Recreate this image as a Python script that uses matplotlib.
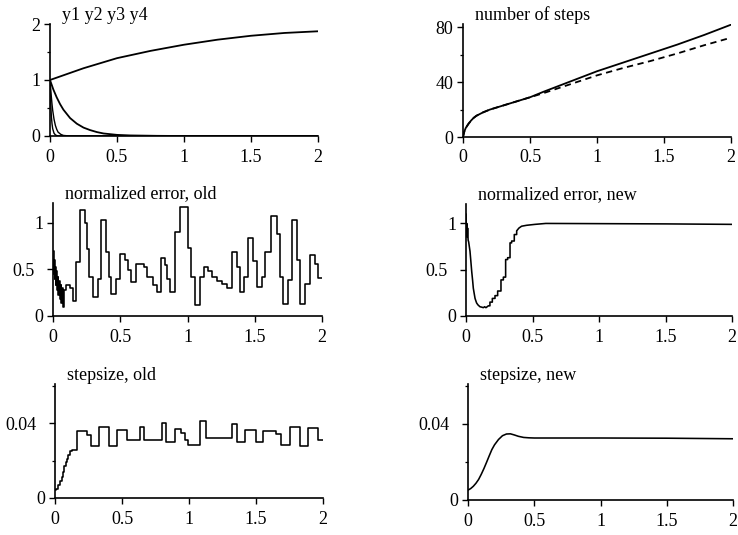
import matplotlib
matplotlib.use('Agg')
import matplotlib.pyplot as plt

matplotlib.rc('font', family='Liberation Serif', size=12)
matplotlib.rc('xtick', labelsize=13, direction='out')
matplotlib.rc('ytick', labelsize=13, direction='out')
matplotlib.rc('axes', linewidth=1.2)

# --- top left: solution components
t_y1 = [0, 0.25, 0.5, 0.75, 1.0, 1.25, 1.5, 1.75, 2.0]
y1 = [1.0, 1.21, 1.39, 1.52, 1.63, 1.72, 1.79, 1.84, 1.87]
t_y2 = [0, 0.025, 0.05, 0.075, 0.1, 0.15, 0.2, 0.25, 0.3, 0.35, 0.4, 0.5, 0.6, 0.8, 1.0, 2.0]
y2 = [1.0, 0.83, 0.69, 0.57, 0.47, 0.32, 0.22, 0.15, 0.105, 0.07, 0.045, 0.02, 0.01, 0.003, 0.0, 0.0]
t_y34 = [0, 0.005, 0.01, 0.015, 0.02, 0.03, 0.04, 0.05, 0.06, 0.08, 0.1, 0.15, 2.0]
y3 = [1.0, 0.85, 0.7, 0.57, 0.46, 0.3, 0.19, 0.12, 0.07, 0.03, 0.01, 0.0, 0.0]
y4 = [1.0, 0.6, 0.36, 0.22, 0.13, 0.05, 0.02, 0.008, 0.003, 0.0, 0.0, 0.0, 0.0]

# --- top right: number of steps (old solid, new dashed)
t_n = [0, 0.01, 0.02, 0.04, 0.06, 0.08, 0.1, 0.15, 0.2, 0.3, 0.4, 0.5,
       0.6, 0.8, 1.0, 1.2, 1.4, 1.6, 1.8, 2.0]
n_old = [0, 4, 6.5, 9.5, 12, 14, 15.5, 18, 20, 23, 26, 29,
         33, 40.5, 48, 54.5, 61, 67.5, 74.5, 82]
n_new = [0, 4, 6.5, 9.5, 12, 14, 15.5, 18, 20, 23, 26, 29,
         32, 38.5, 45, 50.5, 55.5, 61, 67, 72.5]

# --- middle left: normalized error, old (step starts and levels)
t_err_old = [0.000, 0.004, 0.008, 0.012, 0.016, 0.020, 0.025, 0.030, 0.035, 0.040,
             0.045, 0.050, 0.056, 0.062, 0.068, 0.074, 0.080, 0.100, 0.124, 0.149,
             0.174, 0.198, 0.235, 0.255, 0.265, 0.300, 0.335, 0.354, 0.397, 0.416,
             0.434, 0.471, 0.496, 0.538, 0.558, 0.582, 0.620, 0.680, 0.700, 0.740,
             0.770, 0.800, 0.830, 0.850, 0.870, 0.910, 0.945, 1.000, 1.026, 1.056,
             1.093, 1.125, 1.150, 1.180, 1.217, 1.254, 1.291, 1.328, 1.366, 1.390,
             1.422, 1.452, 1.490, 1.514, 1.552, 1.576, 1.621, 1.663, 1.688, 1.713,
             1.750, 1.780, 1.812, 1.836, 1.873, 1.911, 1.948, 1.973, 2.000]
err_old = [0.70, 0.45, 0.60, 0.40, 0.52, 0.33, 0.48, 0.28, 0.42, 0.22,
           0.38, 0.18, 0.33, 0.14, 0.30, 0.10, 0.28, 0.33, 0.30, 0.16,
           0.58, 1.13, 1.00, 0.72, 0.42, 0.20, 0.40, 1.03, 0.68, 0.42,
           0.24, 0.40, 0.66, 0.60, 0.49, 0.36, 0.56, 0.52, 0.42, 0.33,
           0.26, 0.62, 0.55, 0.40, 0.26, 0.90, 1.17, 0.73, 0.42, 0.12,
           0.42, 0.53, 0.48, 0.42, 0.38, 0.34, 0.30, 0.69, 0.53, 0.26,
           0.42, 0.83, 0.59, 0.31, 0.42, 0.69, 1.07, 0.88, 0.42, 0.13,
           0.39, 1.03, 0.60, 0.13, 0.34, 0.65, 0.56, 0.41, 0.41]

# --- middle right: normalized error, new
t_err_new = [0, 0.003, 0.006, 0.009, 0.012, 0.016, 0.02, 0.03, 0.036, 0.043,
             0.05, 0.055, 0.062, 0.068, 0.075, 0.08, 0.09, 0.105, 0.12, 0.13,
             0.14, 0.15, 0.168, 0.18, 0.18, 0.198, 0.198, 0.218, 0.218, 0.238,
             0.238, 0.263, 0.263, 0.281, 0.281, 0.298, 0.298, 0.313, 0.313, 0.331,
             0.331, 0.343, 0.343, 0.363, 0.363, 0.381, 0.381, 0.398, 0.418, 0.456,
             0.519, 0.6, 1.5, 2.0]
err_new = [1.1, 0.88, 1.0, 0.85, 0.95, 0.82, 0.8, 0.70, 0.6, 0.48,
           0.38, 0.30, 0.24, 0.19, 0.16, 0.14, 0.12, 0.10, 0.095, 0.09,
           0.10, 0.09, 0.11, 0.11, 0.15, 0.15, 0.19, 0.19, 0.22, 0.22,
           0.27, 0.27, 0.39, 0.39, 0.42, 0.42, 0.61, 0.61, 0.63, 0.63,
           0.79, 0.79, 0.81, 0.81, 0.88, 0.88, 0.92, 0.95, 0.97, 0.98,
           0.99, 1.0, 0.995, 0.99]

# --- bottom left: stepsize, old (step starts and levels)
t_h_old = [0, 0.01, 0.025, 0.04, 0.05, 0.06, 0.07, 0.08, 0.09, 0.1,
           0.11, 0.125, 0.167, 0.241, 0.267, 0.328, 0.402, 0.465, 0.534, 0.634,
           0.663, 0.795, 0.832, 0.894, 0.944, 0.968, 0.99, 1.08, 1.13, 1.32,
           1.36, 1.416, 1.503, 1.553, 1.652, 1.69, 1.75, 1.83, 1.89, 1.96, 2.0]
h_old = [0.0045, 0.005, 0.007, 0.009, 0.011, 0.014, 0.017, 0.019, 0.021, 0.023,
         0.025, 0.0255, 0.0358, 0.0335, 0.028, 0.038, 0.028, 0.0365, 0.031, 0.038,
         0.031, 0.040, 0.030, 0.0367, 0.035, 0.031, 0.0285, 0.0414, 0.032, 0.0396,
         0.030, 0.0365, 0.030, 0.0358, 0.0344, 0.0285, 0.038, 0.0277, 0.0373, 0.031, 0.031]

# --- bottom right: stepsize, new
t_h_new = [0, 0.02, 0.04, 0.06, 0.08, 0.1, 0.12, 0.14, 0.16, 0.18, 0.2, 0.23,
           0.26, 0.29, 0.32, 0.35, 0.38, 0.42, 0.46, 0.5, 1.0, 1.5, 2.0]
h_new = [0.0052, 0.006, 0.0072, 0.0088, 0.0108, 0.0135, 0.0165, 0.0198, 0.0232,
         0.0265, 0.029, 0.0318, 0.0338, 0.0347, 0.0348, 0.0342, 0.0335, 0.0329,
         0.0327, 0.0326, 0.0326, 0.0325, 0.0322]

x_ticks = [0, 0.5, 1, 1.5, 2]
x_labels = ['0', '0.5', '1', '1.5', '2']

W, H = 738.0, 535.0
def box(l, r, t, b):
    return [l / W, (H - b) / H, (r - l) / W, (b - t) / H]

fig = plt.figure(figsize=(7.38, 5.35), dpi=100)
ax1 = fig.add_axes(box(50, 318, 24, 136))
ax2 = fig.add_axes(box(463, 731, 24, 137))
ax3 = fig.add_axes(box(53, 322, 203, 316))
ax4 = fig.add_axes(box(466, 732, 204, 316))
ax5 = fig.add_axes(box(55, 323, 384, 498))
ax6 = fig.add_axes(box(468, 733, 384, 500))

lw = 1.3
ax1.plot(t_y1, y1, color='k', lw=lw)
ax1.plot(t_y2, y2, color='k', lw=lw)
ax1.plot(t_y34, y3, color='k', lw=1.0)
ax1.plot(t_y34, y4, color='k', lw=1.0)

ax2.plot(t_n, n_old, color='k', lw=lw)
ax2.plot(t_n, n_new, color='k', lw=lw, ls=(0, (3.5, 2.5)))

ax3.step(t_err_old, err_old, where='post', color='k', lw=1.15)
ax4.plot(t_err_new, err_new, color='k', lw=1.15)
ax5.step(t_h_old, h_old, where='post', color='k', lw=1.15)
ax6.plot(t_h_new, h_new, color='k', lw=1.15)

y_ticks = {ax1: [0, 1, 2], ax2: [0, 40, 80],
           ax3: [0, 0.5, 1], ax4: [0, 0.5, 1],
           ax5: [0, 0.04], ax6: [0, 0.04]}
y_labels = {ax1: ['0', '1', '2'], ax2: ['0', '40', '80'],
            ax3: ['0', '0.5', '1'], ax4: ['0', '0.5', '1'],
            ax5: ['0', '0.04'], ax6: ['0', '0.04']}

ax1.set_ylim(0, 2)
ax1.set_yticks([0.5, 1.5], minor=True)
ax2.set_ylim(0, 82.5)
ax2.set_yticks([20, 60], minor=True)
for ax in [ax3, ax4]:
    ax.set_ylim(0, 1.21)
for ax in [ax5, ax6]:
    ax.set_ylim(0, 0.061)
    ax.set_yticks([0.02, 0.06], minor=True)

titles = ['y1 y2 y3 y4', 'number of steps', 'normalized error, old',
          'normalized error, new', 'stepsize, old', 'stepsize, new']
for ax, title in zip([ax1, ax2, ax3, ax4, ax5, ax6], titles):
    ax.set_xlim(0, 2)
    ax.set_xticks(x_ticks, x_labels)
    ax.set_yticks(y_ticks[ax], y_labels[ax])
    ax.spines['right'].set_visible(False)
    ax.spines['top'].set_visible(False)
    ax.tick_params(which='major', length=4, width=1.0, pad=3)
    ax.tick_params(which='minor', length=2.5, width=0.9)
    ax.tick_params(axis='x', pad=5)
    h_px = ax.get_position().height * H
    ax.text(0.045, 1 + 4.5 / h_px, title, transform=ax.transAxes,
            fontsize=13, va='baseline', ha='left')
    # decimal labels sit further from the axis in the original
    for tick, lab in zip(ax.yaxis.get_major_ticks(), y_labels[ax]):
        if '.' in lab:
            tick.set_pad(9)

plt.savefig('out.png', dpi=100)
